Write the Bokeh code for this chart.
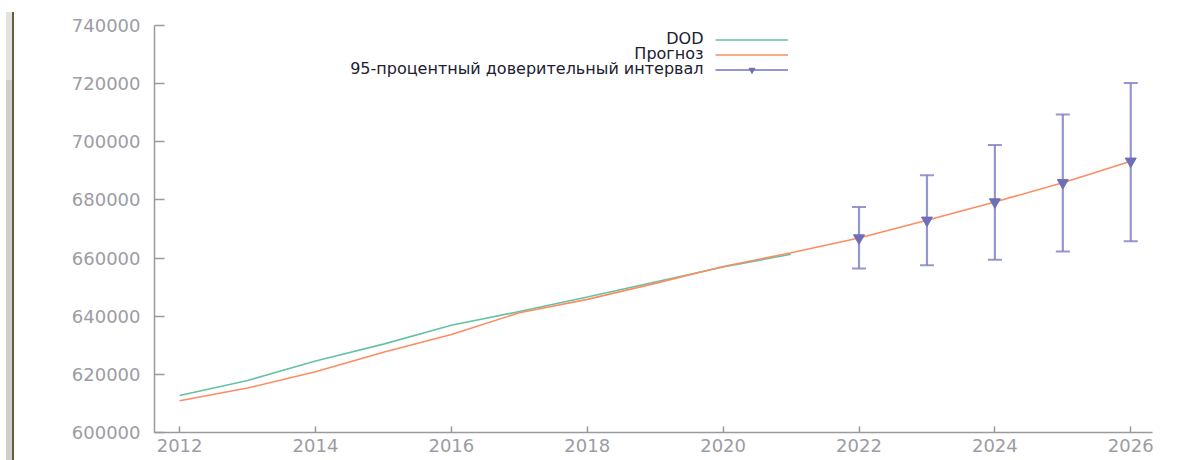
from bokeh.plotting import figure
from bokeh.layouts import row
from bokeh.models import (ColumnDataSource, Legend, LegendItem,
                          Label, FixedTicker, Range1d, Div)
from bokeh.embed import file_html
from bokeh.resources import INLINE

# ---------------- data ----------------
years_dod = [2012, 2013, 2014, 2015, 2016, 2017, 2018, 2019, 2020, 2021]
dod = [612700, 617900, 624600, 630400, 636900, 641600, 646600, 651800, 656900, 661300]

years_fc = [2012, 2013, 2014, 2015, 2016, 2017, 2018, 2019, 2020, 2021,
            2022, 2023, 2024, 2025, 2026]
forecast = [610900, 615300, 620900, 627600, 633700, 641200, 645800, 651300, 657100, 661800,
            666900, 673000, 679300, 685900, 693300]

years_ci = [2022, 2023, 2024, 2025, 2026]
ci_mid = [666900, 673000, 679300, 685900, 693300]
ci_low = [656400, 657500, 659400, 662300, 665800]
ci_high = [677600, 688500, 698900, 709400, 720200]

x_ticks = [2012, 2014, 2016, 2018, 2020, 2022, 2024, 2026]
y_ticks = [600000, 620000, 640000, 660000, 680000, 700000, 720000, 740000]

labels = ["DOD", "Прогноз", "95-процентный доверительный интервал"]

GREEN = "#66c2a5"
ORANGE = "#fc8d62"
VIOLET = "#8484c8"
VIOLET_D = "#6f6fb8"
AXIS = "#9a9a9a"
TICKLBL = "#9c9ca4"

DEC_W = 14

p = figure(width=1185 - DEC_W, height=460, output_backend="svg", toolbar_location=None,
           x_range=Range1d(2011.63, 2026.32), y_range=Range1d(600000, 740000),
           min_border_left=154 - DEC_W, min_border_right=33, min_border_top=25,
           min_border_bottom=28)
p.outline_line_color = None
p.grid.visible = False
p.background_fill_color = "white"
p.border_fill_color = "white"

# axes
for ax in (p.xaxis[0], p.yaxis[0]):
    ax.axis_line_color = AXIS
    ax.axis_line_width = 1.5
    ax.major_tick_line_color = AXIS
    ax.major_tick_line_width = 1.5
    ax.minor_tick_line_color = None
    ax.major_tick_out = 0
    ax.major_label_text_color = TICKLBL
    ax.major_label_text_font = "DejaVu Sans"
    ax.major_label_text_font_size = "18px"

p.xaxis.ticker = FixedTicker(ticks=x_ticks)
p.yaxis.ticker = FixedTicker(ticks=y_ticks)
p.xaxis.major_tick_in = 6
p.yaxis.major_tick_in = 10
p.xaxis.major_label_standoff = 6
p.yaxis.major_label_standoff = 14
p.yaxis.formatter.use_scientific = False

# data
src_dod = ColumnDataSource(dict(x=years_dod, y=dod))
src_fc = ColumnDataSource(dict(x=years_fc, y=forecast))
src_ci = ColumnDataSource(dict(x=years_ci, y=ci_mid, lo=ci_low, hi=ci_high))

r_dod = p.line("x", "y", source=src_dod, line_color=GREEN, line_width=1.6)
r_fc = p.line("x", "y", source=src_fc, line_color=ORANGE, line_width=1.6)

# error bars: vertical segments + caps (dash markers)
r_bars = p.segment(x0="x", y0="lo", x1="x", y1="hi", source=src_ci,
                   line_color=VIOLET, line_width=2.2, line_alpha=0.85)
r_cap_hi = p.scatter("x", "hi", source=src_ci, marker="dash", size=14,
                     line_color=VIOLET, line_width=2, line_alpha=0.85)
r_cap_lo = p.scatter("x", "lo", source=src_ci, marker="dash", size=14,
                     line_color=VIOLET, line_width=2, line_alpha=0.85)
r_ci = p.scatter("x", "y", source=src_ci, marker="inverted_triangle", size=11,
                 fill_color=VIOLET_D, line_color=VIOLET_D)

# legend: samples on the right, text on the left
legend = Legend(items=[
    LegendItem(label=" ", renderers=[r_dod]),
    LegendItem(label=" ", renderers=[r_fc]),
    LegendItem(label=" ", renderers=[r_bars, r_ci]),
], location=(561, 355), orientation="vertical",
    glyph_width=73, glyph_height=15, label_height=15, label_width=0,
    label_standoff=0, spacing=0, padding=0, margin=0,
    background_fill_alpha=0, border_line_color=None,
    label_text_font_size="1px")
p.add_layout(legend, "center")

row_y = [394, 379, 364]
for txt, yy in zip(labels, row_y):
    p.add_layout(Label(x=549, y=yy, x_units="screen", y_units="screen", text=txt,
                       text_align="right", text_baseline="middle",
                       text_font="DejaVu Sans", text_font_size="16px",
                       text_color="#202030"))

# left window-frame decoration seen in the reference screenshot
deco = Div(width=DEC_W, height=460, margin=0, text=(
    '<div style="position:absolute;left:6px;top:12px;width:6px;height:68px;background:#e2e2e2"></div>'
    '<div style="position:absolute;left:6px;top:80px;width:6px;height:380px;background:#cfcfcf"></div>'
    '<div style="position:absolute;left:12px;top:12px;width:2px;height:448px;background:#6e5a3c"></div>'))

layout = row(deco, p, spacing=0)
open("out.html", "w").write(file_html(layout, INLINE))
